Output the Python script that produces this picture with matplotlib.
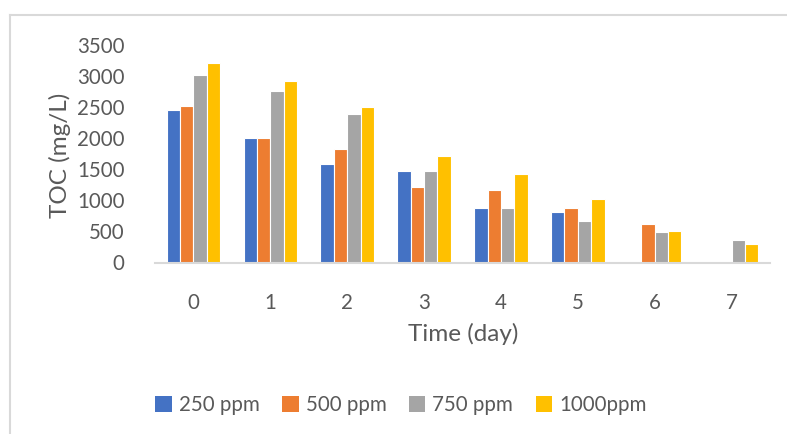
import matplotlib
matplotlib.use("Agg")
import matplotlib.pyplot as plt
import numpy as np
from matplotlib.lines import Line2D
from matplotlib.patches import Patch

days = ["0", "1", "2", "3", "4", "5", "6", "7"]
series_names = ["250 ppm", "500 ppm", "750 ppm", "1000ppm"]
toc_250 = [2460, 2010, 1590, 1470, 880, 820, 0, 0]
toc_500 = [2520, 2010, 1825, 1215, 1170, 880, 620, 0]
toc_750 = [3020, 2760, 2390, 1470, 880, 665, 485, 355]
toc_1000 = [3205, 2920, 2510, 1710, 1425, 1020, 505, 295]
colors = ["#4472C4", "#ED7D31", "#A5A5A5", "#FFC000"]
yticks = [0, 500, 1000, 1500, 2000, 2500, 3000, 3500]

plt.rcParams['font.family'] = ['Lato', 'DejaVu Sans']
W, H = 787, 434
fig = plt.figure(figsize=(W / 100, H / 100), dpi=100)

left, right, top, bottom = 155, 770, 45, 262.5
ax = fig.add_axes([left / W, 1 - bottom / H, (right - left) / W, (bottom - top) / H])

x = np.arange(len(days))
slot = 0.174
bw = 0.174
all_vals = [toc_250, toc_500, toc_750, toc_1000]
for i, (vals, c) in enumerate(zip(all_vals, colors)):
    ax.bar(x + (i - 1.5) * slot, vals, width=bw, color=c, edgecolor="white",
           linewidth=0.8, label=series_names[i], zorder=2)

ax.set_xlim(-0.5, len(days) - 0.5)
ax.set_ylim(0, 3500)
ax.set_yticks(yticks)
ax.set_yticklabels([str(v) for v in yticks])
ax.set_xticks(x)
ax.set_xticklabels(days)
for s in ["top", "right", "left"]:
    ax.spines[s].set_visible(False)
ax.spines["bottom"].set_color("#D9D9D9")
ax.spines["bottom"].set_linewidth(1.5)
ax.tick_params(axis="both", length=0, labelsize=14.8, labelcolor="#595959")
ax.tick_params(axis="y", pad=22)
ax.tick_params(axis="x", pad=22)

fig.text(60 / W, 1 - 155 / H, "TOC (mg/L)", rotation=90, ha="center", va="center",
         fontsize=17.5, color="#595959")
fig.text(463 / W, 1 - 334 / H, "Time (day)", ha="center", va="center",
         fontsize=17.5, color="#595959")

handles = [Patch(facecolor=c, edgecolor="none") for c in colors]
leg = fig.legend(handles, series_names, loc="center", bbox_to_anchor=(401 / W, 1 - 405 / H),
                 ncol=4, frameon=False, fontsize=14.8, handlelength=0.8, handleheight=0.8,
                 handletextpad=0.35, columnspacing=1.08, labelcolor="#595959")

# chart border (partially visible)
fig.add_artist(Line2D([10 / W, 10 / W], [0, 1 - 15 / H], transform=fig.transFigure,
                      color="#D9D9D9", linewidth=1.5))
fig.add_artist(Line2D([10 / W, 1], [1 - 15 / H, 1 - 15 / H], transform=fig.transFigure,
                      color="#D9D9D9", linewidth=1.5))

fig.savefig("out.png", dpi=100, facecolor="white")
